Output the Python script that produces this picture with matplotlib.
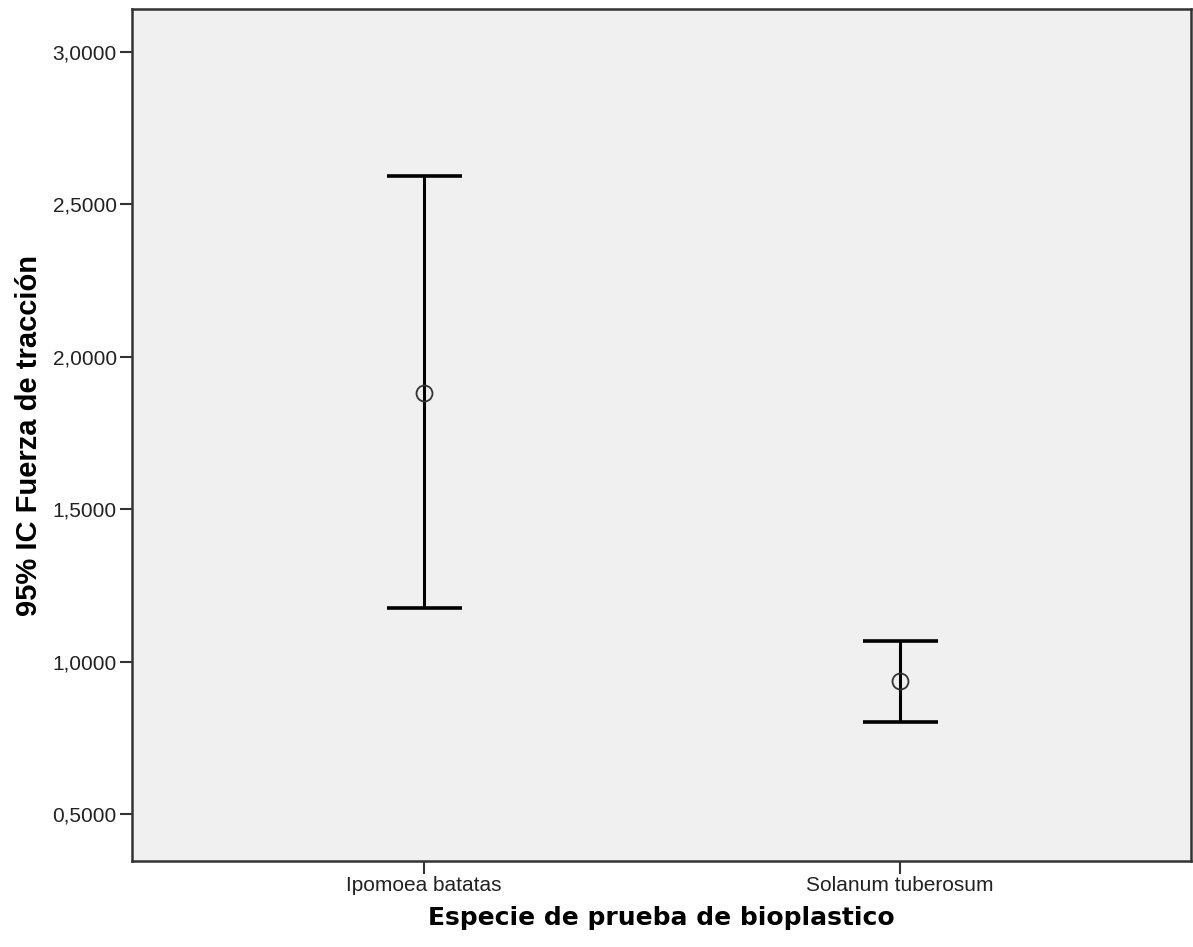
import matplotlib
matplotlib.use('Agg')
import matplotlib.pyplot as plt
import numpy as np

especies = ['Ipomoea batatas', 'Solanum tuberosum']
media = [1.882, 0.936]
ic_inferior = [1.177, 0.802]
ic_superior = [2.594, 1.068]
y_ticks = [0.5, 1.0, 1.5, 2.0, 2.5, 3.0]


def main():
    fig = plt.figure(figsize=(11.93, 9.47), dpi=100)
    ax = fig.add_axes([0.1106, 0.0908, 0.8877, 0.8997])
    ax.set_facecolor('#f0f0f0')

    x = np.arange(len(especies))
    m = np.array(media)
    yerr = [m - np.array(ic_inferior), np.array(ic_superior) - m]
    ax.errorbar(x, m, yerr=yerr, fmt='none', ecolor='black',
                elinewidth=2.2, capsize=27, capthick=2.6, zorder=2)
    ax.plot(x, m, 'o', markersize=11.5, markerfacecolor='none',
            markeredgecolor='#333333', markeredgewidth=1.3, zorder=3)

    ax.set_xlim(-0.613, 1.612)
    ax.set_ylim(0.347, 3.14)
    ax.set_xticks(x)
    ax.set_xticklabels(especies, fontsize=15, family='Liberation Sans',
                       color='#222222')
    ax.set_yticks(y_ticks)
    ax.set_yticklabels([f'{v:.4f}'.replace('.', ',') for v in y_ticks],
                       fontsize=15, family='Liberation Sans', color='#222222')
    ax.tick_params(axis='both', length=9, width=1.5, color='#333333', pad=2)

    for s in ax.spines.values():
        s.set_color('#333333')
        s.set_linewidth(1.8)

    ax.set_xlabel('Especie de prueba de bioplastico', fontsize=18,
                  fontweight='bold', family='DejaVu Sans', labelpad=8)
    ax.set_ylabel('95% IC Fuerza de tracción', fontsize=21,
                  fontweight='bold', family='Liberation Sans', labelpad=7)

    fig.savefig('out.png', dpi=100)


if __name__ == "__main__":
    main()
